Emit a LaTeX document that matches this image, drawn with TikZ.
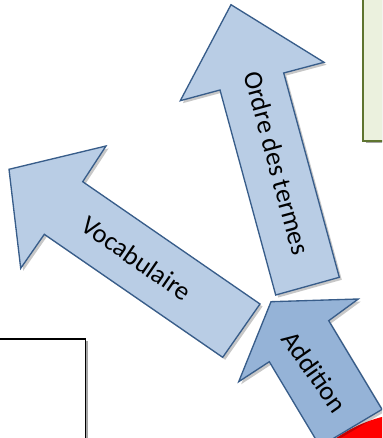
\documentclass[tikz,border=0pt]{standalone}
\usepackage{fontspec}
\setmainfont{Carlito}
\usepackage{tikz}
\usetikzlibrary{backgrounds}

\definecolor{arrowfill}{RGB}{185,205,229}
\definecolor{arrowdark}{RGB}{149,179,215}
\definecolor{arrowline}{RGB}{56,93,138}
\definecolor{notefill}{RGB}{235,241,222}
\definecolor{noteline}{RGB}{95,117,48}

\tikzset{
  arrowshape/.style={draw=arrowline, line width=1pt, line join=miter, fill=arrowfill},
  shadowshape/.style={fill=black, opacity=0.22},
  arrowlabel/.style={inner sep=0.75pt, font=\fontsize{20}{24}\selectfont}
}

\begin{document}
\begin{tikzpicture}[x=0.75pt,y=0.75pt,yscale=-1,xscale=1]
\useasboundingbox (0,0) rectangle (382,438);
\clip (0,0) rectangle (382,438);

%Shape: Circle (red, bottom right)
\fill[red] (420,560) circle (148);

%Shape: Rectangle (note, top right)
\fill[black!35] (365.5,-5) rectangle (392,143.5);
\draw[draw=noteline, line width=1.3pt, fill=notefill] (363.3,-5) rectangle (392,141.3);

%Shape: Rectangle (bottom left)
\fill[black!35] (-5,341) rectangle (87.5,445);
\draw[line width=1.1pt, fill=white] (-5,339) rectangle (85.3,445);

%Shape: Arrow (Ordre des termes)
\path[shadowshape, shift={(2.5,2.5)}] (231,4.7) -- (324,62.3) -- (283.7,73) -- (339.3,277.3) -- (275.7,295) -- (220,90) -- (180.3,100.7) -- cycle;
\draw[arrowshape] (231,4.7) -- (324,62.3) -- (283.7,73) -- (339.3,277.3) -- (275.7,295) -- (220,90) -- (180.3,100.7) -- cycle;

%Shape: Arrow (Vocabulaire)
\path[shadowshape, shift={(2.5,2.5)}] (9,169.3) -- (106,146) -- (82.7,181.7) -- (260,304) -- (222.7,357.3) -- (44.3,234.3) -- (20.7,268.3) -- cycle;
\draw[arrowshape] (9,169.3) -- (106,146) -- (82.7,181.7) -- (260,304) -- (222.7,357.3) -- (44.3,234.3) -- (20.7,268.3) -- cycle;

%Shape: Arrow (Addition)
\path[shadowshape, shift={(2.5,2.5)}] (271,301.7) -- (358.3,299) -- (328.7,320.7) -- (382,409.4) -- (320,446.4) -- (269.3,361.7) -- (238.7,381.7) -- cycle;
\draw[arrowshape, fill=arrowdark] (271,301.7) -- (358.3,299) -- (328.7,320.7) -- (382,409.4) -- (320,446.4) -- (269.3,361.7) -- (238.7,381.7) -- cycle;

% Text Node
\node[arrowlabel, rotate=-74.8] (ordre) at (277,163) {Ordre des termes};
% Text Node
\node[arrowlabel, rotate=-34.6] (vocab) at (136.7,258.3) {Vocabulaire};
% Text Node
\node[arrowlabel, rotate=-55] (addition) at (315,371.7) {Addition};

\end{tikzpicture}
\end{document}
